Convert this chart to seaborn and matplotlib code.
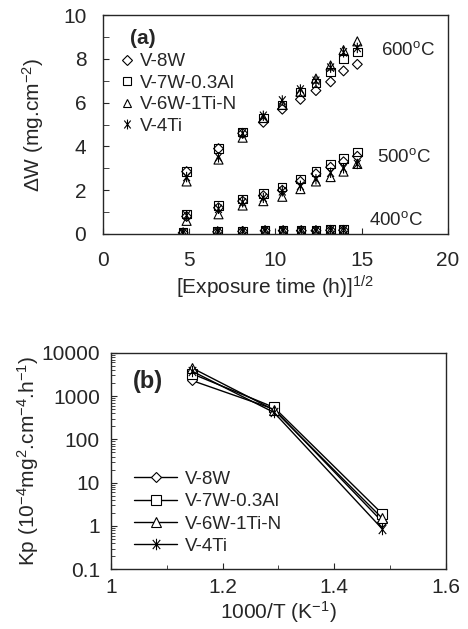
import numpy as np
import pandas as pd
import matplotlib
matplotlib.use("Agg")
import matplotlib.pyplot as plt
import seaborn as sns
from matplotlib.lines import Line2D
from matplotlib.path import Path
from matplotlib.ticker import MultipleLocator, FixedLocator, LogLocator, NullFormatter

# ---------------- data ----------------
alloys = ["V-8W", "V-7W-0.3Al", "V-6W-1Ti-N", "V-4Ti"]

# (a) mass gain vs sqrt(time)
x_400 = [4.65, 6.65, 8.1, 9.4, 10.45, 11.5, 12.35, 13.2, 13.95]
x_hi = [4.85, 6.7, 8.1, 9.3, 10.4, 11.45, 12.35, 13.2, 13.95, 14.75]

dw_400 = {
    "V-8W":       [0.05, 0.10, 0.12, 0.15, 0.15, 0.15, 0.15, 0.17, 0.17],
    "V-7W-0.3Al": [0.10, 0.12, 0.15, 0.18, 0.18, 0.18, 0.18, 0.20, 0.20],
    "V-6W-1Ti-N": [0.02, 0.08, 0.10, 0.12, 0.12, 0.12, 0.12, 0.15, 0.15],
    "V-4Ti":      [0.05, 0.10, 0.12, 0.15, 0.15, 0.15, 0.15, 0.17, 0.17],
}
dw_500 = {
    "V-8W":       [0.80, 1.20, 1.50, 1.75, 2.00, 2.40, 2.75, 3.05, 3.30, 3.55],
    "V-7W-0.3Al": [0.90, 1.30, 1.60, 1.85, 2.15, 2.50, 2.85, 3.20, 3.45, 3.75],
    "V-6W-1Ti-N": [0.60, 0.90, 1.30, 1.50, 1.70, 2.05, 2.40, 2.60, 2.85, 3.20],
    "V-4Ti":      [0.85, 1.15, 1.45, 1.65, 1.95, 2.20, 2.50, 2.80, 3.00, 3.20],
}
dw_600 = {
    "V-8W":       [2.85, 3.90, 4.60, 5.10, 5.70, 6.15, 6.55, 6.95, 7.45, 7.75],
    "V-7W-0.3Al": [2.85, 3.90, 4.65, 5.30, 5.90, 6.50, 6.90, 7.40, 8.00, 8.30],
    "V-6W-1Ti-N": [2.40, 3.40, 4.40, 5.30, 5.90, 6.50, 7.10, 7.70, 8.40, 8.80],
    "V-4Ti":      [2.60, 3.50, 4.60, 5.40, 6.10, 6.60, 7.00, 7.60, 8.30, 8.50],
}

# (b) parabolic rate constant vs 1000/T
inv_T = [1.145, 1.292, 1.486]
kp = {
    "V-8W":       [2300, 500, 1.25],
    "V-7W-0.3Al": [3300, 550, 1.9],
    "V-6W-1Ti-N": [4500, 480, 1.5],
    "V-4Ti":      [3800, 420, 0.85],
}

rows = []
for a in alloys:
    for xs, d in [(x_400, dw_400), (x_hi, dw_500), (x_hi, dw_600)]:
        for xv, yv in zip(xs, d[a]):
            rows.append({"alloy": a, "t": xv, "dw": yv})
df_a = pd.DataFrame(rows)
df_b = pd.DataFrame([{"alloy": a, "invT": xv, "kp": yv}
                     for a in alloys for xv, yv in zip(inv_T, kp[a])])

# asterisk like excel: vertical bar + steep X
star = Path([(0, -1), (0, 1), (-0.65, -0.8), (0.65, 0.8), (-0.65, 0.8), (0.65, -0.8)],
            [Path.MOVETO, Path.LINETO, Path.MOVETO, Path.LINETO, Path.MOVETO, Path.LINETO])
markers = ["D", "s", "^", star]
msizes = [5, 6, 6.5, 7.5]

# ---------------- style ----------------
sns.set_style("ticks")
plt.rcParams["font.family"] = ["Liberation Sans", "DejaVu Sans"]
plt.rcParams["mathtext.default"] = "regular"
plt.rcParams["axes.linewidth"] = 1.0

fig = plt.figure(figsize=(4.68, 6.29), dpi=100)
ax1 = fig.add_axes([0.220, 0.628, 0.737, 0.348])
ax2 = fig.add_axes([0.237, 0.095, 0.716, 0.344])

FS = 15

# ---------------- (a) ----------------
for a, m, ms in zip(alloys, markers, msizes):
    sub = df_a[df_a["alloy"] == a]
    sns.scatterplot(data=sub, x="t", y="dw", marker=m, s=ms ** 2,
                    facecolor="none", edgecolor="k", linewidth=0.8,
                    ax=ax1, legend=False, zorder=3)

ax1.set_xlim(0, 20)
ax1.set_ylim(0, 10)
ax1.xaxis.set_major_locator(MultipleLocator(5))
ax1.yaxis.set_major_locator(MultipleLocator(2))
ax1.yaxis.set_minor_locator(MultipleLocator(1))
ax1.tick_params(axis="both", which="both", direction="in", labelsize=FS, length=4)
ax1.tick_params(axis="y", which="both", pad=12)
ax1.tick_params(axis="x", which="both", pad=12)
ax1.set_xlabel("[Exposure time (h)]$^{1/2}$", fontsize=FS, labelpad=3)
ax1.set_ylabel("\u0394W (mg.cm$^{-2}$)", fontsize=FS, labelpad=12)
for s in ["top", "right"]:
    ax1.spines[s].set_visible(True)

ax1.text(0.078, 0.935, "(a)", transform=ax1.transAxes, fontsize=15,
         fontweight="bold", va="top")
ax1.text(16.1, 8.4, "600$^{o}$C", fontsize=13.5, va="center")
ax1.text(15.9, 3.5, "500$^{o}$C", fontsize=13.5, va="center")
ax1.text(15.4, 0.65, "400$^{o}$C", fontsize=13.5, va="center")

handles_a = []
for a, m, ms in zip(alloys, markers, msizes):
    handles_a.append(Line2D([], [], linestyle="none", marker=m, markersize=ms * 0.95,
                            markerfacecolor="none", markeredgecolor="k",
                            markeredgewidth=0.8, color="k", label=a))
ax1.legend(handles=handles_a, loc="upper left", bbox_to_anchor=(0.052, 0.826),
           frameon=False, fontsize=13.5, handlelength=0.6, handletextpad=0.43,
           labelspacing=0.23, borderpad=0, borderaxespad=0)

# ---------------- (b) ----------------
for a, m, ms in zip(alloys, markers, msizes):
    sub = df_b[df_b["alloy"] == a]
    sns.lineplot(data=sub, x="invT", y="kp", color="k", linewidth=1.0,
                 marker=m, markersize=ms * 1.1, markerfacecolor="white",
                 markeredgecolor="k", markeredgewidth=0.8, ax=ax2, label=a)

ax2.set_yscale("log")
ax2.set_xlim(1.0, 1.6)
ax2.set_ylim(0.1, 10000)
ax2.xaxis.set_major_locator(MultipleLocator(0.2))
ax2.xaxis.set_minor_locator(MultipleLocator(0.1))
ax2.xaxis.set_major_formatter(plt.FuncFormatter(lambda v, p: f"{v:g}"))
yt = [0.1, 1, 10, 100, 1000, 10000]
ax2.yaxis.set_major_locator(FixedLocator(yt))
ax2.set_yticklabels([f"{v:g}" for v in yt])
ax2.yaxis.set_minor_locator(LogLocator(base=10, subs=np.arange(2, 10)))
ax2.yaxis.set_minor_formatter(NullFormatter())
ax2.tick_params(axis="both", which="both", direction="in", labelsize=FS)
ax2.tick_params(axis="y", which="both", pad=8)
ax2.tick_params(axis="x", which="both", pad=6)
ax2.tick_params(which="major", length=4)
ax2.tick_params(which="minor", length=3)
ax2.set_xlabel("1000/T (K$^{-1}$)", fontsize=FS, labelpad=2)
ax2.set_ylabel("Kp (10$^{-4}$mg$^{2}$.cm$^{-4}$.h$^{-1}$)", fontsize=FS, labelpad=0)
for s in ["top", "right"]:
    ax2.spines[s].set_visible(True)

ax2.text(0.066, 0.92, "(b)", transform=ax2.transAxes, fontsize=17,
         fontweight="bold", va="top")
ax2.legend(loc="upper left", bbox_to_anchor=(0.069, 0.455), frameon=False,
           fontsize=13.5, handlelength=2.3, handletextpad=0.43, labelspacing=0.28,
           borderpad=0, borderaxespad=0)

fig.savefig("out.png", dpi=100)
